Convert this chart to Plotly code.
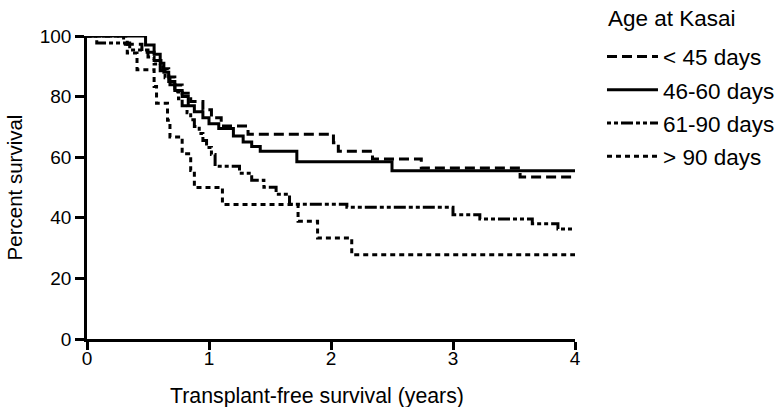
import plotly.graph_objects as go

# Kaplan-Meier step data (time in years, percent survival after event)
lt45_t = [0, 0.30, 0.45, 0.55, 0.62, 0.67, 0.72, 0.78, 0.85, 0.95, 1.02, 1.10, 1.32, 2.02, 2.06, 2.34, 2.74, 3.55, 4.0]
lt45_s = [100, 97.3, 94.6, 91.9, 89.2, 86.5, 83.8, 81.1, 78.4, 75.7, 73.0, 70.3, 67.6, 64.8, 62.0, 59.4, 56.4, 53.5, 53.5]

d4660_t = [0, 0.48, 0.55, 0.60, 0.63, 0.67, 0.72, 0.78, 0.83, 0.88, 0.95, 1.00, 1.08, 1.20, 1.28, 1.35, 1.42, 1.72, 2.50, 4.0]
d4660_s = [100, 97.0, 94.0, 91.0, 88.0, 85.0, 82.0, 80.0, 77.0, 75.0, 73.0, 71.0, 69.5, 67.0, 65.0, 63.5, 62.0, 58.5, 55.5, 55.5]

d6190_t = [0, 0.08, 0.35, 0.50, 0.55, 0.60, 0.64, 0.68, 0.72, 0.75, 0.78, 0.82, 0.85, 0.88, 0.92, 0.95, 0.98, 1.02, 1.05,
           1.25, 1.35, 1.45, 1.55, 1.66, 2.13, 3.00, 3.22, 3.65, 3.86, 4.0]
d6190_s = [100, 97.7, 95.4, 93.1, 90.8, 88.5, 86.2, 83.9, 81.6, 79.3, 77.0, 74.7, 72.4, 70.1, 67.8, 65.5, 63.2, 60.9, 57.0,
           54.7, 52.4, 50.1, 47.8, 44.5, 43.5, 41.0, 39.6, 38.0, 36.3, 36.3]

gt90_t = [0, 0.33, 0.41, 0.55, 0.57, 0.66, 0.68, 0.78, 0.85, 0.88, 1.11, 1.73, 1.89, 2.17, 4.0]
gt90_s = [100, 94.4, 88.9, 83.3, 77.8, 72.2, 66.7, 61.1, 55.6, 50.0, 44.4, 38.9, 33.3, 27.8, 27.8]

names = ["< 45 days", "46-60 days", "61-90 days", "> 90 days"]
legend_title = "Age at Kasai"
x_title = "Transplant-free survival (years)"
y_title = "Percent survival"
x_ticks = [0, 1, 2, 3, 4]
y_ticks = [0, 20, 40, 60, 80, 100]

dashes = ["10px,5px", "solid", "4px,3px,4px,3px,12px,3px", "5px,4px"]

FONT = "Liberation Sans, Arial, Helvetica, sans-serif"

fig = go.Figure()
for i, (t, s) in enumerate([(lt45_t, lt45_s), (d4660_t, d4660_s), (d6190_t, d6190_s), (gt90_t, gt90_s)]):
    fig.add_trace(go.Scatter(
        x=t, y=s, mode="lines", name=names[i], legendgroup=names[i],
        line=dict(color="black", width=3, dash=dashes[i], shape="hv"),
        hoverinfo="skip",
    ))

fig.add_annotation(
    text=legend_title, xref="paper", yref="paper",
    x=1.0635, y=1.0594, xanchor="left", yanchor="middle",
    showarrow=False, font=dict(size=22.5, family=FONT, color="black"),
)
fig.add_annotation(
    text=x_title, xref="paper", yref="paper",
    x=0.471, y=-0.188, xanchor="center", yanchor="middle",
    showarrow=False, font=dict(size=21.3, family=FONT, color="black"),
)

fig.update_layout(
    width=781, height=407,
    margin=dict(l=87, r=206, t=36, b=68, autoexpand=False),
    paper_bgcolor="white", plot_bgcolor="white",
    font=dict(family=FONT, size=19, color="black"),
    showlegend=True,
    legend=dict(
        font=dict(size=22.5, family=FONT),
        x=1.0553, xanchor="left",
        y=1.0017, yanchor="top",
        tracegroupgap=1, itemwidth=51,
        bgcolor="rgba(0,0,0,0)",
    ),
    xaxis=dict(
        range=[0, 4], tickvals=x_ticks,
        showline=True, linecolor="black", linewidth=2.5,
        ticks="outside", ticklen=8, tickwidth=2.5, tickcolor="black",
        showgrid=False, zeroline=False, automargin=False,
        tickfont=dict(size=19, family=FONT), ticklabelstandoff=-8,
    ),
    yaxis=dict(
        range=[0, 100], tickvals=y_ticks,
        showline=True, linecolor="black", linewidth=2.5,
        ticks="outside", ticklen=9, tickwidth=2.5, tickcolor="black",
        showgrid=False, zeroline=False, automargin=False,
        tickfont=dict(size=19, family=FONT),
        title=dict(text=y_title, font=dict(size=20.5, family=FONT), standoff=12),
    ),
)

fig.write_html("out.html", config={"displayModeBar": False},
               post_script="document.body.style.margin='0';")
